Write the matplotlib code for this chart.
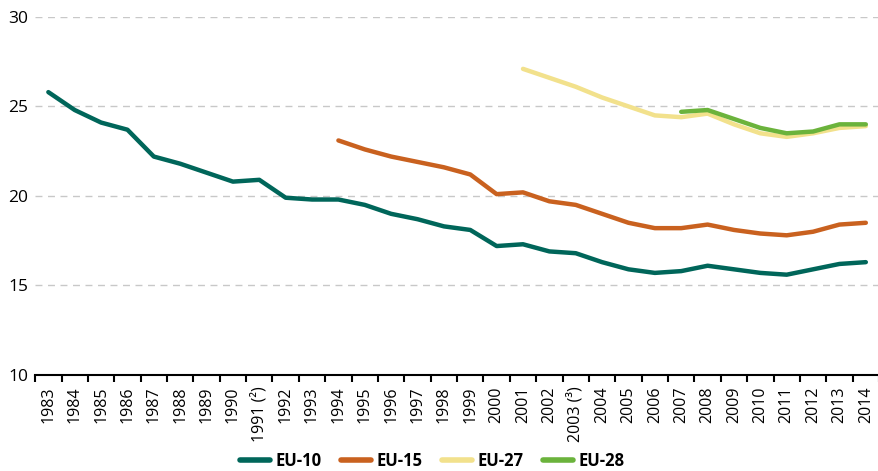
import matplotlib
matplotlib.use("Agg")
import matplotlib.pyplot as plt

plt.rcParams['font.family'] = ['Open Sans', 'DejaVu Sans']

years = list(range(1983, 2015))
tick_labels = [str(y) for y in years]
tick_labels[years.index(1991)] = "1991 (\u00b2)"
tick_labels[years.index(2003)] = "2003 (\u00b3)"

eu10 = [25.8, 24.8, 24.1, 23.7, 22.2, 21.8, 21.3, 20.8, 20.9, 19.9, 19.8,
        19.8, 19.5, 19.0, 18.7, 18.3, 18.1, 17.2, 17.3, 16.9, 16.8, 16.3,
        15.9, 15.7, 15.8, 16.1, 15.9, 15.7, 15.6, 15.9, 16.2, 16.3]
eu15_years = list(range(1994, 2015))
eu15 = [23.1, 22.6, 22.2, 21.9, 21.6, 21.2, 20.1, 20.2, 19.7, 19.5, 19.0,
        18.5, 18.2, 18.2, 18.4, 18.1, 17.9, 17.8, 18.0, 18.4, 18.5]
eu27_years = list(range(2001, 2015))
eu27 = [27.1, 26.6, 26.1, 25.5, 25.0, 24.5, 24.4, 24.6, 24.0, 23.5, 23.3,
        23.5, 23.8, 23.9]
eu28_years = list(range(2007, 2015))
eu28 = [24.7, 24.8, 24.3, 23.8, 23.5, 23.6, 24.0, 24.0]

fig = plt.figure(figsize=(8.79, 4.71), dpi=100)
ax = fig.add_axes([0.040, 0.204, 0.960, 0.760])

lw = 3.2
ax.plot(years, eu10, color="#00665a", lw=lw, solid_capstyle="round", label="EU-10", zorder=3)
ax.plot(eu15_years, eu15, color="#c9611f", lw=lw, solid_capstyle="round", label="EU-15", zorder=3)
ax.plot(eu27_years, eu27, color="#f2e18c", lw=lw, solid_capstyle="round", label="EU-27", zorder=3)
ax.plot(eu28_years, eu28, color="#6bb33c", lw=lw, solid_capstyle="round", label="EU-28", zorder=4)

ax.set_xlim(1982.5, 2014.35)
ax.set_ylim(10, 30)
ax.set_yticks([10, 15, 20, 25, 30])
for y in [15, 20, 25, 30]:
    ax.axhline(y, color="#c8c8c8", lw=1, ls=(0, (5, 4)), zorder=1)

ax.set_xticks(years)
ax.set_xticklabels(tick_labels, rotation=90, fontsize=11.5)
ax.set_xticks([y - 0.5 for y in years] + [2014.5], minor=True)
ax.tick_params(axis="x", which="major", length=0, pad=8)
ax.tick_params(axis="x", which="minor", length=5, width=1.5, color="black", direction="out")
ax.tick_params(axis="y", length=0, labelsize=12.5, pad=5)

for s in ["top", "right", "left"]:
    ax.spines[s].set_visible(False)
ax.spines["bottom"].set_linewidth(1.5)

leg = fig.legend(loc="center", bbox_to_anchor=(0.492, 0.022), ncol=4,
                 frameon=False, handlelength=1.75, handletextpad=0.35,
                 columnspacing=1.2, prop={"weight": "bold", "size": 12})
for line in leg.get_lines():
    line.set_linewidth(4)
    line.set_solid_capstyle("round")

fig.savefig("out.png", dpi=100)
